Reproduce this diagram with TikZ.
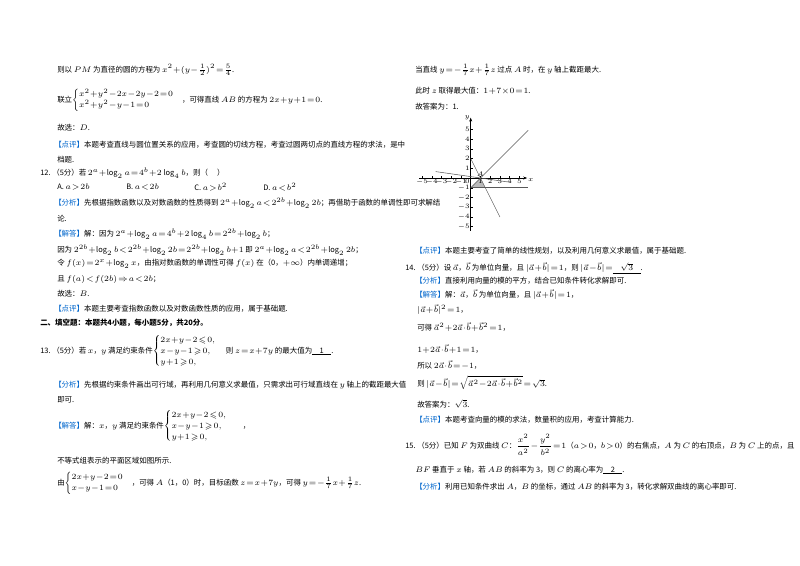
\documentclass[tikz,border=0pt]{standalone}
\usepackage{amsmath,amssymb}
\usepackage{fontspec}
\setmainfont{Noto Sans CJK SC}
\definecolor{tagblue}{RGB}{0,102,204}
\newcommand\bkt[1]{\textcolor{tagblue}{【#1】}}
\newcommand\va{\vec{a}}
\newcommand\vb{\vec{b}}
\medmuskip=0.5mu plus 0.5mu
\thickmuskip=1.5mu plus 1mu
\tikzset{txt/.style={anchor=west,inner sep=0pt,font=\fontsize{5.6}{6.8}\selectfont},
  tick/.style={inner sep=0.6pt,font=\fontsize{4.6}{5}\selectfont},
  axis/.style={line width=0.4pt,-{Stealth[length=3pt]}},
  gl/.style={line width=0.4pt,gray!70!black}}
\usetikzlibrary{arrows.meta}
\begin{document}
\begin{tikzpicture}[x=0.75pt,y=-0.75pt]
\useasboundingbox[fill=white] (0,0) rectangle (800,565);
% left column
\node[txt] (l1) at (57,70) {则以 $PM$ 为直径的圆的方程为 $x^2+(y-\frac12)^2=\frac54$.};
\node[txt] (l2) at (57,100) {联立$\begin{cases}x^2+y^2-2x-2y-2=0\\x^2+y^2-y-1=0\end{cases}$，可得直线 $AB$ 的方程为 $2x+y+1=0$.};
\node[txt] (l3) at (57,128) {故选：$D$.};
\node[txt] (l4) at (54,145) {\bkt{点评}本题考查直线与圆位置关系的应用，考查圆的切线方程，考查过圆两切点的直线方程的求法，是中};
\node[txt] (l5) at (57,160) {档题.};
\node[txt] (l6) at (40,173) {12.\ （5分）若 $2^a+\log_2a=4^b+2\log_4b$，则（\quad\ ）};
\node[txt] (l7a) at (57,187) {A.\ $a>2b$};
\node[txt] (l7b) at (126,187) {B.\ $a<2b$};
\node[txt] (l7c) at (194,187) {C.\ $a>b^2$};
\node[txt] (l7d) at (263,187) {D.\ $a<b^2$};
\node[txt] (l8) at (54,203) {\bkt{分析}先根据指数函数以及对数函数的性质得到 $2^a+\log_2a<2^{2b}+\log_22b$；再借助于函数的单调性即可求解结};
\node[txt] (l9) at (57,219) {论.};
\node[txt] (l10) at (54,234) {\bkt{解答}解：因为 $2^a+\log_2a=4^b+2\log_4b=2^{2b}+\log_2b$；};
\node[txt] (l11) at (57,250) {因为 $2^{2b}+\log_2b<2^{2b}+\log_22b=2^{2b}+\log_2b+1$ 即 $2^a+\log_2a<2^{2b}+\log_22b$；};
\node[txt] (l12) at (57,264) {令 $f(x)=2^x+\log_2x$，由指对数函数的单调性可得 $f(x)$ 在（0，$+\infty$）内单调递增；};
\node[txt] (l13) at (57,279) {且 $f(a)<f(2b)\Rightarrow a<2b$；};
\node[txt] (l14) at (57,294) {故选：$B$.};
\node[txt] (l15) at (54,309) {\bkt{点评}本题主要考查指数函数以及对数函数性质的应用，属于基础题.};
\node[txt,font=\fontsize{5.6}{6.8}\selectfont\bfseries] (l16) at (40,323) {二、填空题：本题共4小题，每小题5分，共20分。};
\node[txt] (l17) at (40,351) {13.\ （5分）若 $x$，$y$ 满足约束条件$\begin{cases}2x+y-2\leqslant0,\\x-y-1\geqslant0,\\y+1\geqslant0,\end{cases}$\ 则 $z=x+7y$ 的最大值为\underline{\quad1\quad}.};
\node[txt] (l18) at (54,385) {\bkt{分析}先根据约束条件画出可行域，再利用几何意义求最值，只需求出可行域直线在 $y$ 轴上的截距最大值};
\node[txt] (l19) at (57,400) {即可.};
\node[txt] (l20) at (54,426) {\bkt{解答}解：$x$，$y$ 满足约束条件$\begin{cases}2x+y-2\leqslant0,\\x-y-1\geqslant0,\\y+1\geqslant0,\end{cases}$\quad，};
\node[txt] (l21) at (57,461) {不等式组表示的平面区域如图所示.};
\node[txt] (l22) at (57,483) {由$\begin{cases}2x+y-2=0\\x-y-1=0\end{cases}$，可得 $A$（1，0）时，目标函数 $z=x+7y$，可得 $y=-\frac17x+\frac17z$.};
% right column
\node[txt] (r1) at (415,70) {当直线 $y=-\frac17x+\frac17z$ 过点 $A$ 时，在 $y$ 轴上截距最大.};
\node[txt] (r2) at (415,91) {此时 $z$ 取得最大值：$1+7\times0=1$.};
\node[txt] (r3) at (415,107) {故答案为：1.};
% graph
\begin{scope}[shift={(470.7,178)},x=7.3pt,y=7.3pt]
\fill[gray!55] (0,-1) -- (1,0) -- (1.5,-1) -- cycle;
\draw[axis] (-5.3,0) -- (5.8,0) node[tick,anchor=north west] (xl) {$x$};
\draw[axis] (0,-5.4) -- (0,6.2) node[tick,anchor=east] (yl) {$y$};
\foreach \i in {-5,...,-1,1,2,...,5}{
  \draw[line width=0.3pt] (\i,0) -- (\i,0.2);
  \node[tick,anchor=north] at (\i,0) {$\i$};
  \draw[line width=0.3pt] (0,\i) -- (0.25,\i);
  \node[tick,anchor=east] at (0,\i) {$\i$};}
\node[tick,anchor=north east] at (0,0) {$0$};
\draw[gl] (0,2) -- (3,-4);
\draw[gl] (0,-1) -- (5.9,4.9);
\draw[gl] (0,-1) -- (5.9,-1);
\draw[gl] (-3.6,0.66) -- (4,-0.43);
\coordinate (A) at (1,0);
\node[tick,anchor=south] (Al) at (A) {$A$};
\end{scope}
\node[txt] (r4) at (415,251) {\bkt{点评}本题主要考查了简单的线性规划，以及利用几何意义求最值，属于基础题.};
\node[txt] (r5) at (405,268) {14.\ （5分）设 $\va$，$\vb$ 为单位向量，且 $|\va+\vb|=1$，则 $|\va-\vb|=$\underline{\quad$\sqrt3$\quad}.};
\node[txt] (r6) at (415,281) {\bkt{分析}直接利用向量的模的平方，结合已知条件转化求解即可.};
\node[txt] (r7) at (415,295) {\bkt{解答}解：$\va$，$\vb$ 为单位向量，且 $|\va+\vb|=1$，};
\node[txt] (r8) at (417,310) {$|\va+\vb|^2=1$，};
\node[txt] (r9) at (417,327) {可得 $\va^2+2\va\cdot\vb+\vb^2=1$，};
\node[txt] (r10) at (417,349) {$1+2\va\cdot\vb+1=1$，};
\node[txt] (r11) at (417,365) {所以 $2\va\cdot\vb=-1$，};
\node[txt] (r12) at (417,383) {则 $|\va-\vb|=\sqrt{\va^2-2\va\cdot\vb+\vb^2}=\sqrt3$.};
\node[txt] (r13) at (417,404) {故答案为：$\sqrt3$.};
\node[txt] (r14) at (415,420) {\bkt{点评}本题考查向量的模的求法，数量积的应用，考查计算能力.};
\node[txt] (r15) at (405,445) {15.\ （5分）已知 $F$ 为双曲线 $C$：$\dfrac{x^2}{a^2}-\dfrac{y^2}{b^2}=1$（$a>0$，$b>0$）的右焦点，$A$ 为 $C$ 的右顶点，$B$ 为 $C$ 上的点，且};
\node[txt] (r16) at (415,470) {$BF$ 垂直于 $x$ 轴，若 $AB$ 的斜率为 3，则 $C$ 的离心率为\underline{\quad2\quad}.};
\node[txt] (r17) at (415,487) {\bkt{分析}利用已知条件求出 $A$，$B$ 的坐标，通过 $AB$ 的斜率为 3，转化求解双曲线的离心率即可.};
\end{tikzpicture}
\end{document}
